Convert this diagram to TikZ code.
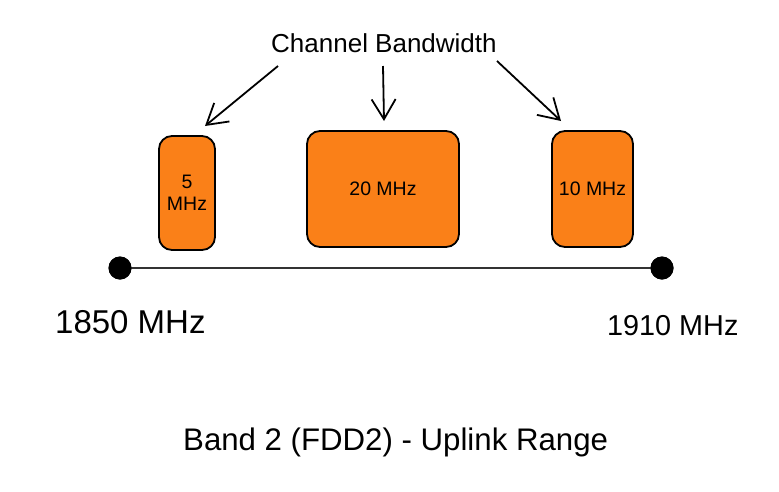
\documentclass[tikz,border=0pt]{standalone}
\usepackage{fontspec}
\setmainfont{Liberation Sans}
\usetikzlibrary{arrows.meta}
\definecolor{boxorange}{RGB}{250,128,24}
\tikzset{
  band/.style={draw=black, line width=1.8pt, fill=boxorange, rounded corners=13pt, inner sep=0pt, align=center, font=\fontsize{19.5}{22}\selectfont},
  dot/.style={circle, fill=black, minimum size=23pt, inner sep=0pt},
  pointer/.style={line width=1.8pt, -{Straight Barb[length=20pt,width=24pt,line width=1.8pt]}},
  lbl/.style={inner sep=0pt, anchor=base west}
}
\begin{document}
\begin{tikzpicture}[x=1pt,y=-1pt]
\useasboundingbox (0,0) rectangle (779,491);
% boxes
\node[band, minimum width=56pt, minimum height=114pt] (b5) at (187,193) {5\\MHz};
\node[band, minimum width=152pt, minimum height=116pt] (b20) at (383,189) {20 MHz};
\node[band, minimum width=81pt, minimum height=116pt] (b10) at (592.5,189) {10 MHz};
% axis
\node[dot] (dl) at (120,268) {};
\node[dot] (dr) at (662,268) {};
\draw[line width=1.6pt, black!80] (dl.center) -- (dr.center);
\node[dot] at (dl) {};
\node[dot] at (dr) {};
% title and arrows
\node[lbl, font=\fontsize{26}{30}\selectfont] (title) at (271,52) {Channel Bandwidth};
\coordinate (s1) at (278,66);
\coordinate (e1) at (205,126);
\coordinate (s2) at (383,66);
\coordinate (e2) at (384,121);
\coordinate (s3) at (497,61);
\coordinate (e3) at (561,121);
\draw[pointer] (s1) -- (e1);
\draw[pointer] (s2) -- (e2);
\draw[pointer] (s3) -- (e3);
% labels
\node[lbl, font=\fontsize{33}{38}\selectfont] (f1) at (55,333) {1850 MHz};
\node[lbl, font=\fontsize{28.8}{33}\selectfont] (f2) at (607,335) {1910 MHz};
\node[lbl, font=\fontsize{31.2}{36}\selectfont] (cap) at (183,450) {Band 2 (FDD2) - Uplink Range};
\end{tikzpicture}
\end{document}
